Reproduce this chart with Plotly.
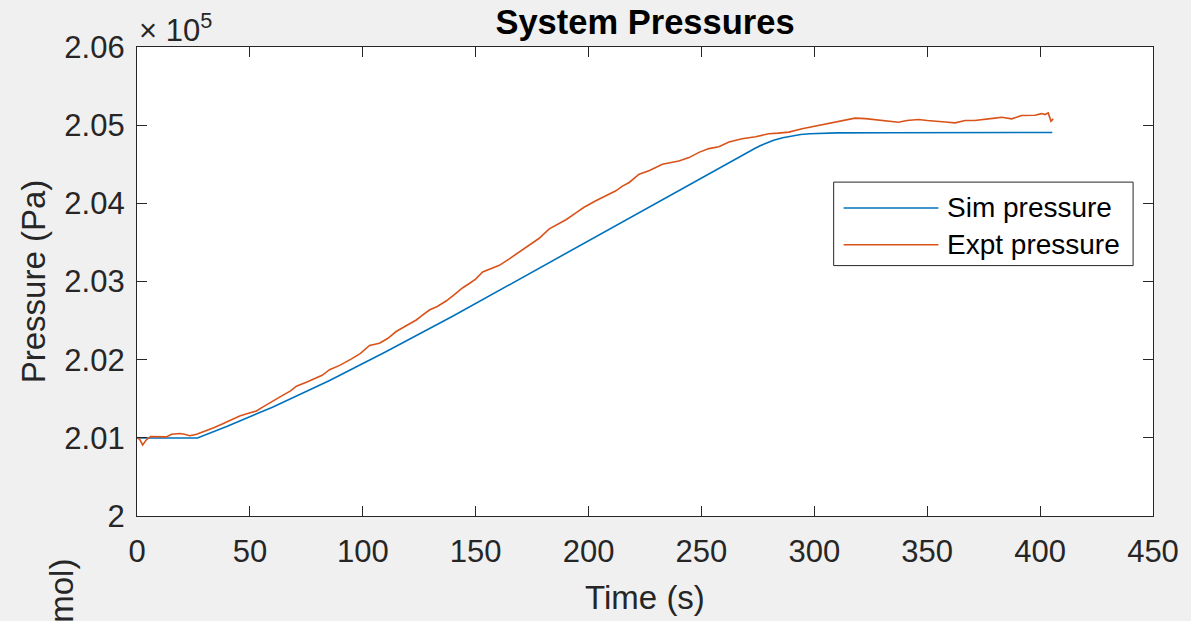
import plotly.graph_objects as go

# Simulated pressure (values in units of 1e5 Pa)
sim_time = [0, 26.8, 40, 60, 85.3, 110, 140, 173.7, 200, 230, 244.5, 257.7,
            264, 270, 274, 276, 278, 280, 282, 286, 290, 294, 298, 303, 310,
            332.9, 370, 405.4]
sim_pressure = [2.00997, 2.00997, 2.01148, 2.01392, 2.01733, 2.02099, 2.02558,
                2.03100, 2.03520, 2.04003, 2.04240, 2.04455, 2.04555, 2.04648,
                2.04708, 2.04737, 2.04764, 2.04788, 2.04808, 2.04840, 2.04864,
                2.04880, 2.04890, 2.04897, 2.04901, 2.04903, 2.04905, 2.04907]

# Measured pressure (values in units of 1e5 Pa)
expt_time = [0, 1.2, 2.5, 4, 6, 9, 13, 15.3, 19, 21, 23.4, 26.4, 30.8, 34, 38,
             42, 45.5, 49, 52.9, 56, 58.8, 62, 64.7, 68, 70.6, 75, 79.4, 82,
             85.3, 90, 95, 99, 103, 107.4, 111, 114.8, 119, 123.7, 126, 129.5,
             133, 136.9, 140, 144.3, 147.2, 150, 153.1, 157, 160.5, 164.9,
             169.3, 173.7, 178, 182.6, 187, 190, 194.4, 198, 203.2, 207, 212.1,
             215, 218, 222.4, 227, 232.7, 236, 240, 244.5, 248.9, 253.3, 257.7,
             262.2, 268, 274, 279.8, 284, 288.7, 294.6, 299, 303.4, 309.3,
             315.2, 318, 322.6, 328.5, 332.9, 337.3, 341, 346.2, 350, 355, 358,
             362.4, 366.8, 371, 375.6, 380, 383, 387.4, 391.8, 395, 397.7,
             400.7, 402.2, 403.6, 404.8, 405.8]
expt_pressure = [2.0100, 2.0098, 2.0091, 2.0097, 2.01017, 2.01015, 2.01012,
                 2.01046, 2.01055, 2.01045, 2.01026, 2.01046, 2.0109, 2.0113,
                 2.0118, 2.0123, 2.0128, 2.0131, 2.01344, 2.0140, 2.0145,
                 2.0150, 2.01547, 2.0160, 2.0166, 2.0171, 2.01767, 2.0180,
                 2.01872, 2.0193, 2.0201, 2.0208, 2.02182, 2.0221, 2.0227,
                 2.0236, 2.0243, 2.02508, 2.0256, 2.02635, 2.0268, 2.0275,
                 2.0282, 2.0292, 2.02974, 2.0303, 2.03123, 2.0317, 2.03207,
                 2.0329, 2.03378, 2.0347, 2.0355, 2.03674, 2.03737, 2.0379,
                 2.03877, 2.0395, 2.04033, 2.0409, 2.0416, 2.0422, 2.04267,
                 2.04373, 2.0442, 2.0450, 2.0452, 2.04542, 2.04585, 2.04652,
                 2.0470, 2.04725, 2.04784, 2.04826, 2.04852, 2.0489, 2.04898,
                 2.04911, 2.04953, 2.0498, 2.05008, 2.05042, 2.05081, 2.0509,
                 2.05084, 2.05063, 2.05046, 2.05037, 2.0506, 2.05072, 2.0506,
                 2.05042, 2.0504, 2.0503, 2.05059, 2.0506, 2.05072, 2.0509,
                 2.05101, 2.05081, 2.05123, 2.0513, 2.05127, 2.05148, 2.05136,
                 2.05157, 2.0505, 2.05081]

series_names = ["Sim pressure", "Expt pressure"]
series_colors = ["#0072BD", "#D95319"]

x_ticks = [0, 50, 100, 150, 200, 250, 300, 350, 400, 450]
y_ticks = [2.00, 2.01, 2.02, 2.03, 2.04, 2.05, 2.06]
y_tick_labels = ["2", "2.01", "2.02", "2.03", "2.04", "2.05", "2.06"]

FONT = "Liberation Sans, Arial, sans-serif"
INK = "#262626"

fig = go.Figure()
fig.add_trace(go.Scatter(x=sim_time, y=sim_pressure, mode="lines",
                         name=series_names[0],
                         line=dict(color=series_colors[0], width=1.6)))
fig.add_trace(go.Scatter(x=expt_time, y=expt_pressure, mode="lines",
                         name=series_names[1],
                         line=dict(color=series_colors[1], width=1.6)))

axis_common = dict(showline=True, linecolor=INK, linewidth=1.2, mirror="ticks",
                   ticks="inside", ticklen=10, tickwidth=1.2, tickcolor=INK,
                   showgrid=False, zeroline=False,
                   tickfont=dict(family=FONT, size=31, color=INK))

fig.update_layout(
    width=1191, height=621,
    margin=dict(l=137, r=36, t=47, b=102),
    paper_bgcolor="#f0f0f0", plot_bgcolor="white",
    showlegend=False,
    title=dict(text="<b>System Pressures</b>", x=0.5, xref="paper",
               y=1 - 22 / 621, yref="container", xanchor="center",
               yanchor="middle",
               font=dict(family=FONT, size=34.5, color="black")),
    xaxis=dict(range=[0, 450], tickvals=x_ticks, ticklabelstandoff=8,
               title=dict(text="Time (s)", standoff=17,
                          font=dict(family=FONT, size=33, color=INK)),
               **axis_common),
    yaxis=dict(range=[2.00, 2.06], tickvals=y_ticks, ticktext=y_tick_labels,
               ticklabelstandoff=5,
               title=dict(text="Pressure (Pa)", standoff=8,
                          font=dict(family=FONT, size=33, color=INK)),
               **axis_common),
)

# Exponent marker above the y axis
fig.add_annotation(text="× 10<sup>5</sup>", xref="paper", yref="paper",
                   x=0.0, y=0.994, xanchor="left", yanchor="bottom",
                   showarrow=False,
                   font=dict(family=FONT, size=31, color=INK))

# Boxed legend inside the axes
lg_x0, lg_x1, lg_y0, lg_y1 = 0.6857, 0.9804, 0.5339, 0.7119
fig.add_shape(type="rect", xref="paper", yref="paper",
              x0=lg_x0, x1=lg_x1, y0=lg_y0, y1=lg_y1,
              line=dict(color=INK, width=1), fillcolor="white")
for name, color, ly in zip(series_names, series_colors, [0.6568, 0.5784]):
    fig.add_shape(type="line", xref="paper", yref="paper",
                  x0=0.6955, x1=0.7888, y0=ly, y1=ly,
                  line=dict(color=color, width=1.6))
    fig.add_annotation(text=name, xref="paper", yref="paper",
                       x=0.7952, y=ly, xanchor="left", yanchor="middle",
                       showarrow=False,
                       font=dict(family=FONT, size=28, color="black"))

# Label of the axes below, clipped by the figure edge
fig.add_annotation(text="Amount (mol)", xref="paper", yref="paper",
                   x=-0.0747, y=-0.0865, xanchor="center", yanchor="top",
                   textangle=-90, showarrow=False,
                   font=dict(family=FONT, size=33, color=INK))

fig.write_html("out.html")
